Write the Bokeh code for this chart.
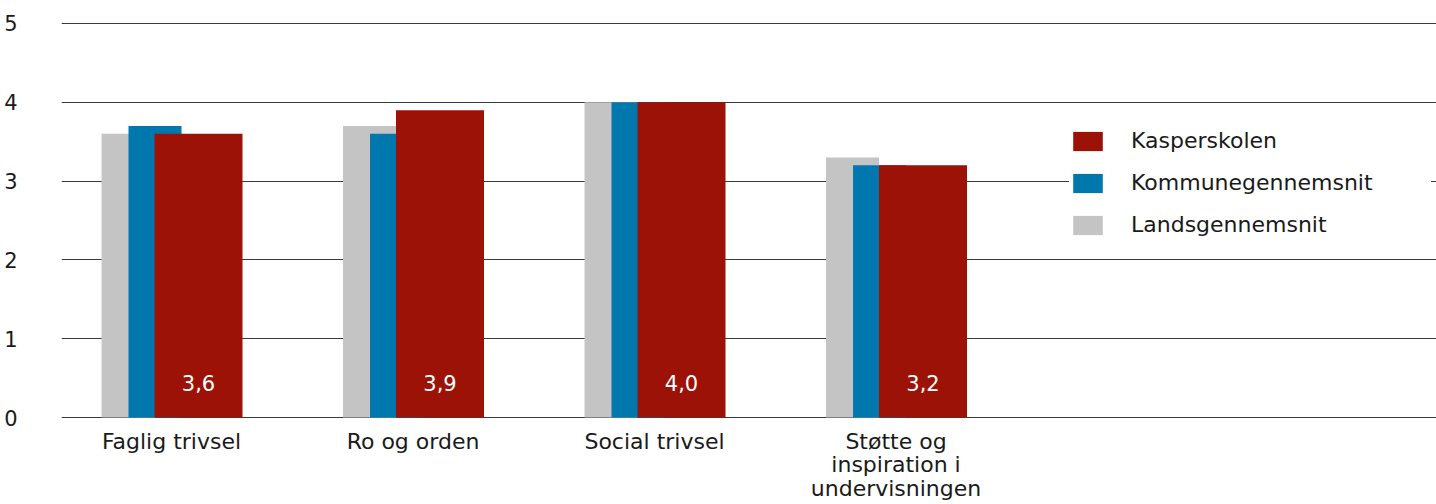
from bokeh.plotting import figure
from bokeh.models import ColumnDataSource, Range1d, FixedTicker, Legend, LegendItem
from bokeh.core.properties import value
from bokeh.transform import dodge
from bokeh.embed import file_html
from bokeh.resources import INLINE

categories = ["Faglig trivsel", "Ro og orden", "Social trivsel", "Støtte og\ninspiration i\nundervisningen"]
kasperskolen = [3.6, 3.9, 4.0, 3.2]
kommune = [3.7, 3.6, 4.0, 3.2]
lands = [3.6, 3.7, 4.0, 3.3]
series_names = ["Kasperskolen", "Kommunegennemsnit", "Landsgennemsnit"]
y_ticks = [0, 1, 2, 3, 4, 5]

RED = "#9C1207"
BLUE = "#0078AD"
GREY = "#C4C4C4"
TXT = "#1a1a1a"
FONT = "DejaVu Sans"

xs = list(range(len(categories)))
src = ColumnDataSource(dict(
    x=xs,
    red=kasperskolen,
    blue=kommune,
    grey=lands,
    lbl=[f"{v:.1f}".replace(".", ",") for v in kasperskolen],
))

p = figure(width=1436, height=504, output_backend="svg", toolbar_location=None,
           x_range=Range1d(-0.4555, 5.238), y_range=Range1d(-0.012, 5.05),
           min_border_left=61, min_border_right=0, min_border_top=19, min_border_bottom=86)
p.outline_line_color = None
p.background_fill_color = "white"

g = p.vbar(x=dodge("x", -0.180, range=p.x_range), top="grey", width=0.2195, bottom=0,
           source=src, fill_color=GREY, line_color=None)
b = p.vbar(x=dodge("x", -0.0683, range=p.x_range), top="blue", width=0.2195, bottom=0,
           source=src, fill_color=BLUE, line_color=None)
r = p.vbar(x=dodge("x", 0.1118, range=p.x_range), top="red", width=0.3644, bottom=0,
           source=src, fill_color=RED, line_color=None)

p.text(x=dodge("x", 0.1118, range=p.x_range), y=0, text="lbl", source=src,
       text_color="white", text_font=value(FONT), text_font_size="21px",
       text_align="center", text_baseline="bottom", y_offset=-27)

# axes
p.xaxis.ticker = FixedTicker(ticks=xs)
p.xaxis.major_label_overrides = {i: c for i, c in enumerate(categories)}
p.xaxis.axis_line_color = None
p.xaxis.major_tick_line_color = None
p.xaxis.minor_tick_line_color = None
p.xaxis.major_label_text_font = FONT
p.xaxis.major_label_text_font_size = "22px"
p.xaxis.major_label_text_color = TXT
p.xaxis.major_label_text_line_height = 0.95
p.xaxis.major_label_standoff = 4

p.yaxis.ticker = FixedTicker(ticks=y_ticks)
p.yaxis.axis_line_color = None
p.yaxis.major_tick_line_color = None
p.yaxis.minor_tick_line_color = None
p.yaxis.major_label_text_font = FONT
p.yaxis.major_label_text_font_size = "21px"
p.yaxis.major_label_text_color = TXT
p.yaxis.major_label_standoff = 38

p.xgrid.grid_line_color = None
p.ygrid.grid_line_color = "#3a3a3a"
p.ygrid.grid_line_width = 1

legend = Legend(items=[
    LegendItem(label=series_names[0], renderers=[r]),
    LegendItem(label=series_names[1], renderers=[b]),
    LegendItem(label=series_names[2], renderers=[g]),
], location=(1008, 181))
legend.glyph_width = 37
legend.glyph_height = 24
legend.label_standoff = 25
legend.label_width = 300
legend.spacing = 17
legend.padding = 15
legend.border_line_color = None
legend.background_fill_color = "white"
legend.background_fill_alpha = 1
legend.label_text_font = FONT
legend.label_text_font_size = "22px"
legend.label_text_color = TXT
p.add_layout(legend, "center")

open("out.html", "w").write(file_html(p, INLINE))
